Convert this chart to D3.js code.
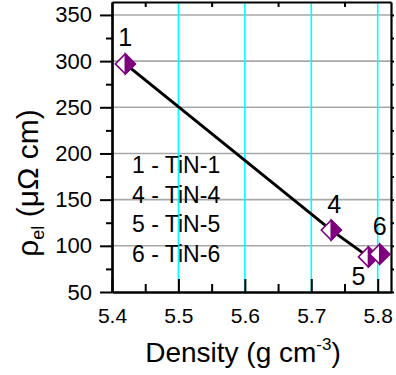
<!DOCTYPE html>
<html>
<head>
<meta charset="utf-8">
<script src="https://cdn.jsdelivr.net/npm/d3@7"></script>
<style>
  body { margin: 0; background: #fff; }
  text { font-family: "Liberation Sans", Arial, sans-serif; fill: #000; }
</style>
</head>
<body>
<div id="chart"></div>
<script>
// sample data
const sampleIds = ['1', '4', '5', '6'];
const sampleNames = ['TiN-1', 'TiN-4', 'TiN-5', 'TiN-6'];
const density = [5.42, 5.73, 5.786, 5.803];
const rhoEl = [297, 117, 88, 91];
const lineIds = ['1', '4', '5'];   // the fitted line runs through these
const xTicks = [5.4, 5.5, 5.6, 5.7, 5.8];
const yTicks = [50, 100, 150, 200, 250, 300, 350];

const width = 396, height = 375;
const purple = '#7f007f';

const svg = d3.select('#chart').append('svg')
  .attr('width', width)
  .attr('height', height);

const x = d3.scaleLinear().domain([5.4, 5.82]).range([112, 391]);
const y = d3.scaleLinear().domain([50, 364]).range([292, 2]);

const points = sampleIds.map((id, i) => ({ id, name: sampleNames[i], d: density[i], r: rhoEl[i] }));

// grid
svg.append('g').selectAll('line')
  .data(yTicks.filter(v => v > 50))
  .join('line')
  .attr('x1', x.range()[0]).attr('x2', x.range()[1])
  .attr('y1', d => y(d)).attr('y2', d => y(d))
  .attr('stroke', '#a8a8a8').attr('stroke-width', 1.6);

svg.append('g').selectAll('line')
  .data(xTicks.filter(v => v > 5.4))
  .join('line')
  .attr('x1', d => x(d)).attr('x2', d => x(d))
  .attr('y1', y.range()[0]).attr('y2', y.range()[1])
  .attr('stroke', '#00ffff').attr('stroke-width', 1.6);

// axes: bottom ticks point inward, left ticks outward
const xMinor = d3.range(5.4, 5.821, 0.05).filter(v => !xTicks.some(t => Math.abs(t - v) < 1e-6));
const yMinor = d3.range(75, 364, 50);

svg.append('g').attr('transform', `translate(0,${y.range()[0]})`)
  .call(d3.axisBottom(x).tickValues(xTicks).tickSizeInner(-13).tickSizeOuter(0).tickPadding(16)
    .tickFormat(d3.format('.1f')))
  .selectAll('text').attr('font-size', 21);
svg.append('g').attr('transform', `translate(0,${y.range()[0]})`)
  .call(d3.axisBottom(x).tickValues(xMinor).tickSizeInner(-8).tickSizeOuter(0).tickFormat(''));

svg.append('g').attr('transform', `translate(${x.range()[0]},0)`)
  .call(d3.axisLeft(y).tickValues(yTicks).tickSizeInner(12).tickSizeOuter(0).tickPadding(8))
  .selectAll('text').attr('font-size', 22);
svg.append('g').attr('transform', `translate(${x.range()[0]},0)`)
  .call(d3.axisLeft(y).tickValues(yMinor).tickSizeInner(6).tickSizeOuter(0).tickFormat(''));

// top and right frame with small ticks
svg.append('g').attr('transform', `translate(0,${y.range()[1]})`)
  .call(d3.axisTop(x).tickValues(xMinor).tickSizeInner(-5).tickSizeOuter(0).tickFormat(''));
svg.append('g').attr('transform', `translate(${x.range()[1]},0)`)
  .call(d3.axisRight(y).tickValues(yTicks.concat(yMinor)).tickSizeInner(3).tickSizeOuter(0).tickFormat(''));

svg.selectAll('.domain').attr('stroke', '#000').attr('stroke-width', 2.2);
svg.selectAll('.tick line').attr('stroke', '#000').attr('stroke-width', 2);
svg.selectAll('.tick text').attr('font-family', '"Liberation Sans", Arial, sans-serif');

// line through samples
const lineData = points.filter(p => lineIds.includes(p.id));
svg.append('path')
  .datum(lineData)
  .attr('fill', 'none')
  .attr('stroke', '#000')
  .attr('stroke-width', 3)
  .attr('d', d3.line().x(p => x(p.d)).y(p => y(p.r)));

// half-filled diamonds
const s = 10;
const mk = svg.append('g').selectAll('g')
  .data(points)
  .join('g')
  .attr('transform', p => `translate(${x(p.d)},${y(p.r)})`);
mk.append('path')
  .attr('d', `M${-s},0L0,${-s}L${s},0L0,${s}Z`)
  .attr('fill', '#fff').attr('stroke', purple).attr('stroke-width', 1.5);
mk.append('path')
  .attr('d', `M0,${-s}L${s},0L0,${s}Z`)
  .attr('fill', purple).attr('stroke', purple).attr('stroke-width', 1.5);

// sample number labels
const labelOffset = { '1': [0, -18], '4': [3, -17], '5': [-10, 28], '6': [0, -19] };
svg.append('g').selectAll('text')
  .data(points)
  .join('text')
  .attr('x', p => x(p.d) + labelOffset[p.id][0])
  .attr('y', p => y(p.r) + labelOffset[p.id][1])
  .attr('text-anchor', 'middle')
  .attr('font-size', 25)
  .text(p => p.id);

// legend
svg.append('g').selectAll('text')
  .data(points)
  .join('text')
  .attr('x', 132)
  .attr('y', (p, i) => 173 + i * 29.5)
  .attr('font-size', 23)
  .text(p => `${p.id} - ${p.name}`);

// axis titles
const xt = svg.append('text')
  .attr('x', 243).attr('y', 362)
  .attr('text-anchor', 'middle')
  .attr('font-size', 28);
xt.append('tspan').text('Density (g cm');
xt.append('tspan').attr('font-size', 17).attr('dy', -12).text('-3');
xt.append('tspan').attr('dy', 12).text(')');

const yt = svg.append('text')
  .attr('transform', 'translate(38,183) rotate(-90)')
  .attr('text-anchor', 'middle')
  .attr('font-size', 30);
yt.append('tspan').text('ρ');
yt.append('tspan').attr('font-size', 18).attr('dy', 6).text('el');
yt.append('tspan').attr('dy', -6).text(' (μΩ cm)');
</script>
</body>
</html>
